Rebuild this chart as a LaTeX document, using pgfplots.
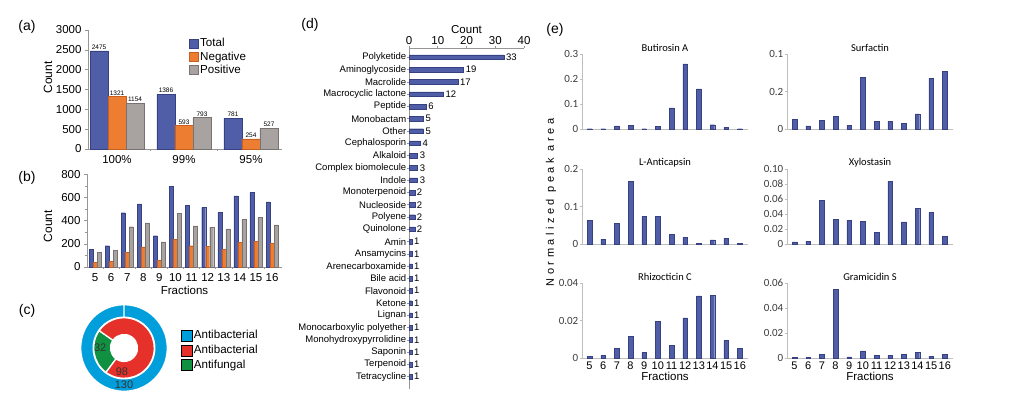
\documentclass[border=0pt]{standalone}
\usepackage{fontspec}
\setmainfont{Liberation Sans}
\newfontfamily\calibri{Carlito}
\newfontfamily\spaced[LetterSpace=32]{Liberation Sans}
\usepackage{pgfplots}
\pgfplotsset{compat=1.18}
\usetikzlibrary{calc}
\newcommand\fs[1]{\fontsize{#1}{#1}\selectfont}
\definecolor{tblue}{RGB}{80,94,168}
\definecolor{tblueD}{RGB}{55,65,130}
\definecolor{torange}{RGB}{237,125,49}
\definecolor{torangeD}{RGB}{200,95,30}
\definecolor{tgray}{RGB}{168,163,160}
\definecolor{tgrayD}{RGB}{120,115,112}
\definecolor{axgray}{RGB}{150,150,150}
\definecolor{lgray}{RGB}{190,190,190}
\definecolor{dblue}{RGB}{0,158,219}
\definecolor{dred}{RGB}{230,48,42}
\definecolor{dgreen}{RGB}{16,145,66}
\definecolor{tickgray}{RGB}{60,60,60}
\pgfplotsset{
  /pgf/number format/assume math mode=true,
  /pgf/number format/1000 sep={},
  base/.style={scale only axis, anchor=north west,
    axis line style={axgray,line width=0.7pt},
    tick style={axgray,line width=0.6pt}, tick align=outside,
    major tick length=3pt, minor tick length=2pt,
    ticklabel style={font=\fs{11.5}}, clip=false},
  sqA/.style={legend image code/.code={\draw[##1] (0pt,-4.5pt) rectangle (9pt,4.5pt);}},
  sqC/.style={legend image code/.code={\draw[##1] (0pt,-5.5pt) rectangle (11pt,5.5pt);}},
  eax/.style={base, width=166pt, height=75pt, xmin=4.45, xmax=16.6, ymin=0,
    ybar, bar width=0.33, axis x line*=bottom, axis y line*=left,
    axis line style={lgray,line width=0.8pt}, tick style={lgray},
    major tick length=2.5pt, scaled y ticks=false,
    xtick={5,...,16}, major x tick style={draw=none},
    y tick label style={font=\calibri\fs{11}, text=tickgray, inner sep=1pt},
    x tick label style={font=\fs{11}, inner sep=1.5pt},
    title style={font=\calibri\fs{10.5}, inner sep=1pt, yshift=-5pt}},
  ebar/.style={fill=tblue, draw=tblueD, line width=0.4pt},
}
\newcommand\ring[5]{\filldraw[fill=#1,draw=white,line width=1.3pt] ($(axis cs:0,0)+(#2:#5)$) arc[start angle=#2,end angle=#3,radius=#5] -- ($(axis cs:0,0)+(#3:#4)$) arc[start angle=#3,end angle=#2,radius=#4] -- cycle;}
\begin{document}
\begin{tikzpicture}
\path[use as bounding box] (0pt,0pt) rectangle (1011pt,-409pt);
% panel labels
\node[font=\fs{14}] at (27pt,-27pt) {(a)};
\node[font=\fs{14}] at (27pt,-178pt) {(b)};
\node[font=\fs{14}] at (27pt,-311pt) {(c)};
\node[font=\fs{14}] at (310pt,-25pt) {(d)};
\node[font=\fs{14}] at (555pt,-30pt) {(e)};

% ---------- (a)
\begin{axis}[base, at={(88pt,-30pt)}, width=194pt, height=119pt,
  xmin=-0.433, xmax=2.463, ymin=0, ymax=3000, ytick={0,500,...,3000},
  axis x line*=bottom, axis y line*=left,
  xtick={0,1,2}, xticklabels={100\%,99\%,95\%}, major x tick style={draw=none},
  minor xtick={0.5,1.5},
  ybar=0pt, bar width=18pt,
  ylabel={Count}, ylabel style={font=\fs{12}, at={(axis description cs:-0.206,0.6)}, anchor=center},
  nodes near coords, nodes near coords style={font=\fs{6.5}, inner sep=1.2pt},
  legend style={at={(rel axis cs:0.52,0.94)}, anchor=north west, draw=none, fill=none,
    font=\fs{11.6}, inner sep=0pt, row sep=0.8pt, nodes={inner sep=1.2pt},
    /tikz/every odd column/.append style={column sep=0.5pt}}, legend cell align=left]
\addplot[fill=tblue, draw=tblueD, sqA] coordinates {(0,2475) (1,1386) (2,781)};
\addplot[fill=torange, draw=torangeD, sqA] coordinates {(0,1321) (1,593) (2,254)};
\addplot[fill=tgray, draw=tgrayD, sqA] coordinates {(0,1154) (1,793) (2,527)};
\legend{Total,Negative,Positive}
\end{axis}

% ---------- (b)
\begin{axis}[base, at={(87pt,-174.3pt)}, width=195pt, height=92.7pt,
  xmin=4.5, xmax=16.62, ymin=0, ymax=800, ytick={0,200,...,800}, minor y tick num=1,
  axis x line*=bottom, axis y line*=left,
  xtick={5,...,16}, major x tick style={draw=none}, minor xtick={5.5,6.5,...,15.5},
  ybar=0pt, bar width=4pt,
  ylabel={Count}, ylabel style={font=\fs{12}, at={(axis description cs:-0.2,0.44)}, anchor=center},
  xlabel={Fractions}, xlabel style={font=\fs{11.5}, inner sep=1pt}]
\addplot[fill=tblue, draw=tblueD, line width=0.3pt] coordinates {(5,155) (6,184) (7,469) (8,544) (9,270) (10,694) (11,530) (12,515) (13,472) (14,613) (15,642) (16,561)};
\addplot[fill=torange, draw=torangeD, line width=0.3pt] coordinates {(5,43) (6,49) (7,127) (8,173) (9,58) (10,239) (11,184) (12,176) (13,150) (14,213) (15,224) (16,207)};
\addplot[fill=tgray, draw=tgrayD, line width=0.3pt] coordinates {(5,124) (6,144) (7,348) (8,380) (9,216) (10,466) (11,354) (12,345) (13,328) (14,409) (15,426) (16,363)};
\end{axis}

% ---------- (c)
\pgfmathsetmacro{\gStart}{145}
\pgfmathsetmacro{\gEnd}{145+32/130*360}
\pgfmathsetmacro{\rEnd}{\gEnd+98/130*360}
\begin{axis}[hide axis, scale only axis, anchor=north west, at={(81.5pt,-305pt)},
  width=85pt, height=86pt, xmin=-1, xmax=1, ymin=-1, ymax=1, clip=false,
  legend style={at={(rel axis cs:1.165,0.72)}, anchor=north west, draw=none, fill=none,
    font=\fs{11.6}, inner sep=0pt, row sep=2.5pt, nodes={inner sep=1.2pt},
    /tikz/every odd column/.append style={column sep=0.5pt}}, legend cell align=left]
\addlegendimage{fill=dblue, draw=none, sqC}
\addlegendentry{Antibacterial}
\addlegendimage{fill=dred, draw=none, sqC}
\addlegendentry{Antibacterial}
\addlegendimage{fill=dgreen, draw=none, sqC}
\addlegendentry{Antifungal}
\ring{dblue}{90}{450}{30.8pt}{43.3pt}
\ring{dgreen}{\gStart}{\gEnd}{13.5pt}{30.3pt}
\ring{dred}{\gEnd}{\rEnd}{13.5pt}{30.3pt}
\node[font=\fs{11}, text=black!80] at (axis cs:-0.56,0.0) {32};
\node[font=\fs{11}, text=black!80] at (axis cs:-0.05,-0.56) {98};
\node[font=\fs{11}, text=black!80] at (axis cs:0,-0.86) {130};
\end{axis}

% ---------- (d)
\begin{axis}[base, at={(409pt,-48pt)}, width=115pt, height=341pt,
  xbar, bar width=0.38, xmin=0, xmax=40, ymin=-0.757, ymax=27.0, y dir=reverse,
  axis x line*=top, axis y line*=left,
  xtick={0,10,20,30,40}, ytick={0,...,26}, major tick length=1.8pt,
  yticklabels={Polyketide,Aminoglycoside,Macrolide,Macrocyclic lactone,Peptide,Monobactam,Other,Cephalosporin,Alkaloid,Complex biomolecule,Indole,Monoterpenoid,Nucleoside,Polyene,Quinolone,Amin,Ansamycins,Arenecarboxamide,Bile acid,Flavonoid,Ketone,Lignan,Monocarboxylic polyether,Monohydroxypyrrolidine,Saponin,Terpenoid,Tetracycline},
  y tick label style={font=\fs{9.5}, inner sep=0.8pt},
  x tick label style={font=\fs{11.5}, inner sep=1.5pt},
  xlabel={Count}, xlabel style={font=\fs{11.5}, inner sep=1pt},
  nodes near coords, nodes near coords style={font=\fs{9.5}, inner sep=2pt}]
\addplot[fill=tblue, draw=tblueD, line width=0.3pt] coordinates {(33,0) (19,1) (17,2) (12,3) (6,4) (5,5) (5,6) (4,7) (3,8) (3,9) (3,10) (2,11) (2,12) (2,13) (2,14) (1,15) (1,16) (1,17) (1,18) (1,19) (1,20) (1,21) (1,22) (1,23) (1,24) (1,25) (1,26)};
\end{axis}

% ---------- (e)
\node[rotate=90, font=\spaced\fs{11}] at (551pt,-202.5pt) {Normalized peak area};

\begin{axis}[eax, at={(582pt,-54pt)}, ymax=0.3, ytick={0,0.1,0.2,0.3}, yticklabels={0,0.1,0.2,0.3}, xticklabels={}, title={Butirosin A}]
\addplot[ebar] coordinates {(5,0.001) (6,0.001) (7,0.012) (8,0.014) (9,0.001) (10,0.011) (11,0.084) (12,0.26) (13,0.16) (14,0.017) (15,0.007) (16,0.001)};
\end{axis}
\begin{axis}[eax, at={(787pt,-54pt)}, ymax=0.4, ytick={0,0.2,0.4}, yticklabels={0,0.2,0.1}, xticklabels={}, title={Surfactin}]
\addplot[ebar] coordinates {(5,0.053) (6,0.016) (7,0.046) (8,0.068) (9,0.019) (10,0.274) (11,0.042) (12,0.042) (13,0.030) (14,0.081) (15,0.270) (16,0.307)};
\end{axis}
\begin{axis}[eax, at={(582pt,-169pt)}, ymax=0.2, ytick={0,0.1,0.2}, yticklabels={0,0.1,0.2}, xticklabels={}, title={L-Anticapsin}]
\addplot[ebar] coordinates {(5,0.063) (6,0.013) (7,0.055) (8,0.168) (9,0.073) (10,0.074) (11,0.025) (12,0.018) (13,0.001) (14,0.011) (15,0.015) (16,0.002)};
\end{axis}
\begin{axis}[eax, at={(787pt,-169pt)}, ymax=0.1, ytick={0,0.02,0.04,0.06,0.08,0.1}, yticklabels={0,0.02,0.04,0.06,0.08,0.10}, xticklabels={}, title={Xylostasin}]
\addplot[ebar] coordinates {(5,0.003) (6,0.004) (7,0.058) (8,0.033) (9,0.032) (10,0.0305) (11,0.0155) (12,0.084) (13,0.0296) (14,0.048) (15,0.042) (16,0.0106)};
\end{axis}
\begin{axis}[eax, at={(582pt,-283pt)}, ymax=0.04, ytick={0,0.02,0.04}, yticklabels={0,0.02,0.04}, title={Rhizocticin C},
  xlabel={Fractions}, xlabel style={font=\fs{11.5}, inner sep=0pt}]
\addplot[ebar] coordinates {(5,0.001) (6,0.0014) (7,0.0051) (8,0.0114) (9,0.003) (10,0.0195) (11,0.0068) (12,0.0214) (13,0.0332) (14,0.0335) (15,0.0093) (16,0.0051)};
\end{axis}
\begin{axis}[eax, at={(787pt,-283pt)}, ymax=0.06, ytick={0,0.02,0.04,0.06}, yticklabels={0,0.02,0.04,0.06}, title={Gramicidin S},
  xlabel={Fractions}, xlabel style={font=\fs{11.5}, inner sep=0pt}]
\addplot[ebar] coordinates {(5,0.0003) (6,0.0005) (7,0.003) (8,0.055) (9,0.001) (10,0.0058) (11,0.002) (12,0.0022) (13,0.003) (14,0.0045) (15,0.0015) (16,0.003)};
\end{axis}
\end{tikzpicture}
\end{document}
